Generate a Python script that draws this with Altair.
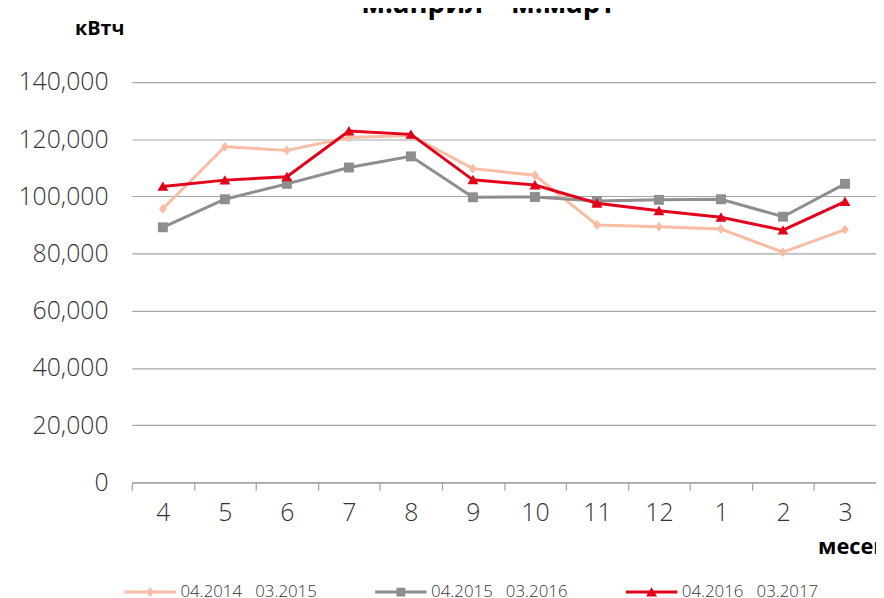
import altair as alt
import pandas as pd

months = ["4", "5", "6", "7", "8", "9", "10", "11", "12", "1", "2", "3"]
series_names = ["04.2014\u00a0\u00a0\u00a003.2015", "04.2015\u00a0\u00a0\u00a003.2016", "04.2016\u00a0\u00a0\u00a003.2017"]
s1 = [95700, 117400, 116100, 120600, 121300, 109700, 107400, 90000, 89400, 88600, 80500, 88400]
s2 = [89200, 99000, 104400, 110100, 114000, 99700, 99800, 98400, 98800, 99000, 92900, 104400]
s3 = [103500, 105700, 106900, 122900, 121700, 105800, 104000, 97600, 95000, 92700, 88200, 98200]
colors = ["#F9BDA6", "#8E8E8E", "#E2001A"]
chart_title = "м.април – м.март"
y_title = "кВтч"
x_title = "месец"

rows = []
for name, vals in zip(series_names, [s1, s2, s3]):
    for m, v in zip(months, vals):
        rows.append({"month": m, "value": v, "series": name})
df = pd.DataFrame(rows)
title_df = pd.DataFrame({"t": [chart_title]})

marker_paths = [
    "M0,-1L0.8,0L0,1L-0.8,0Z",
    "M-1,-1H1V1H-1Z",
    "M0,-1L1.1,0.9L-1.1,0.9Z",
]
bar = "M-5.2,-0.3H5.2V0.3H-5.2Z "
legend_paths = [
    bar + "M0,-1L0.8,0L0,1L-0.8,0Z",
    bar + "M-0.9,-0.9H0.9V0.9H-0.9Z",
    bar + "M0,-1L1.1,0.9L-1.1,0.9Z",
]

FONT = "Open Sans"

x_enc = alt.X(
    "month:N",
    sort=months,
    scale=alt.Scale(paddingInner=0, paddingOuter=0),
    axis=alt.Axis(
        title=x_title,
        labelAngle=0,
        tickBand="extent",
        tickSize=8,
        tickColor="#a0a0a0",
        tickWidth=1.2,
        domainColor="#a0a0a0",
        domainWidth=1.2,
        labelFont=FONT,
        labelFontSize=25,
        labelFontWeight=300,
        labelColor="#333333",
        labelPadding=11,
        grid=False,
        titleFont=FONT,
        titleFontSize=22,
        titleFontWeight="bold",
        titleColor="#000000",
        titleAlign="left",
        titleBaseline="alphabetic",
        titleX=692,
        titleY=72,
    ),
)
y_enc = alt.Y(
    "value:Q",
    scale=alt.Scale(domain=[0, 140000], nice=False),
    axis=alt.Axis(
        title=y_title,
        values=[0, 20000, 40000, 60000, 80000, 100000, 120000, 140000],
        format=",d",
        domain=False,
        ticks=False,
        labelPadding=24,
        labelFont=FONT,
        labelFontSize=25,
        labelFontWeight=300,
        labelColor="#333333",
        gridColor="#a6a6a6",
        gridWidth=1.2,
        titleAngle=0,
        titleFont=FONT,
        titleFontSize=20,
        titleFontWeight="bold",
        titleColor="#000000",
        titleAlign="left",
        titleBaseline="alphabetic",
        titleX=-58,
        titleY=-48,
    ),
)

base = alt.Chart(df)
layers = []
for name, col, path in zip(series_names, colors, marker_paths):
    sub = base.transform_filter(alt.datum.series == name)
    layers.append(
        sub.mark_line(strokeWidth=3, color=col).encode(x=x_enc, y=y_enc)
    )
    layers.append(
        sub.mark_point(filled=True, size=100, opacity=1, color=col, shape=path, strokeWidth=0).encode(
            x=x_enc, y=y_enc
        )
    )

legend_layer = base.transform_filter("false").mark_point(
    filled=True, size=100, opacity=1, strokeWidth=0
).encode(
    color=alt.Color(
        "series:N",
        scale=alt.Scale(domain=series_names, range=colors),
        legend=alt.Legend(
            title=None,
            orient="none",
            legendX=10,
            legendY=506,
            direction="horizontal",
            columns=3,
            columnPadding=58,
            symbolSize=100,
            symbolStrokeWidth=0,
            labelOffset=22,
            labelFont=FONT,
            labelFontSize=17,
            labelFontWeight=300,
            labelColor="#333333",
            labelLimit=300,
        ),
    ),
    shape=alt.Shape(
        "series:N",
        scale=alt.Scale(domain=series_names, range=legend_paths),
    ),
)
layers.append(legend_layer)

title_layer = alt.Chart(title_df).mark_text(
    font=FONT, fontSize=28, fontWeight="bold", color="#000000",
    align="center", baseline="alphabetic",
).encode(text="t:N", x=alt.value(360), y=alt.value(-70))
layers.append(title_layer)

chart = alt.layer(*layers).properties(
    width=751,
    height=404,
    autosize=alt.AutoSizeParams(type="none"),
    padding={"left": 125, "top": 72, "right": 0, "bottom": 114},
).configure_view(stroke=None)

chart.save("out.html", embed_options={"renderer": "svg", "actions": False})
